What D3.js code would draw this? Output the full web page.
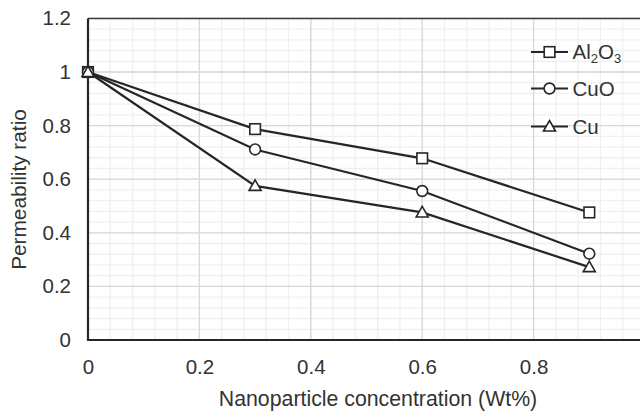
<!DOCTYPE html>
<html><head><meta charset="utf-8">
<script src="https://cdn.jsdelivr.net/npm/d3@7"></script>
<style>body{margin:0;background:#fff;}svg{display:block;font-family:"Liberation Sans",Arial,sans-serif;}</style>
</head><body><svg id="c" width="640" height="411"></svg>
<script>
const concentrations = [0, 0.3, 0.6, 0.9];
const al2o3 = [1, 0.787, 0.678, 0.476];
const cuo = [1, 0.711, 0.556, 0.322];
const cu = [1, 0.575, 0.476, 0.272];
const xTicks = [0, 0.2, 0.4, 0.6, 0.8];
const yTicks = [0, 0.2, 0.4, 0.6, 0.8, 1, 1.2];
const seriesNames = ["Al2O3", "CuO", "Cu"];
const seriesMarkers = ["square", "circle", "triangle"];

const svg = d3.select("#c");
const x = d3.scaleLinear().domain([0, 1]).range([88, 645]);
const y = d3.scaleLinear().domain([0, 1.2]).range([340, 18.4]);
const ink = "#262626";
const txt = "#333";
const fs = 20.5;

// minor grid
const minor = d3.range(0, 1.2001, 0.04);
svg.append("g").selectAll("line").data(minor.filter(v => v <= 1.0001)).join("line")
  .attr("x1", d => x(d)).attr("x2", d => x(d)).attr("y1", y(0)).attr("y2", y(1.2))
  .attr("stroke", "#f0f0f0").attr("stroke-width", 1.3);
svg.append("g").selectAll("line").data(minor).join("line")
  .attr("x1", x(0)).attr("x2", 640).attr("y1", d => y(d)).attr("y2", d => y(d))
  .attr("stroke", "#f0f0f0").attr("stroke-width", 1.3);
// major grid
svg.append("g").selectAll("line").data(xTicks.concat([1])).join("line")
  .attr("x1", d => x(d)).attr("x2", d => x(d)).attr("y1", y(0)).attr("y2", y(1.2))
  .attr("stroke", "#d9d9d9").attr("stroke-width", 1.3);
svg.append("g").selectAll("line").data(yTicks).join("line")
  .attr("x1", x(0)).attr("x2", 640).attr("y1", d => y(d)).attr("y2", d => y(d))
  .attr("stroke", "#d9d9d9").attr("stroke-width", 1.3);

// top border
svg.append("line").attr("x1", x(0)).attr("x2", 640).attr("y1", y(1.2)).attr("y2", y(1.2))
  .attr("stroke", "#3a3a3a").attr("stroke-width", 1.5);

// axes
const xAxis = d3.axisBottom(x).tickValues(xTicks).tickSize(0).tickPadding(19)
  .tickFormat(d => String(+d.toFixed(1)));
const gx = svg.append("g").attr("transform", `translate(0,${y(0)})`).call(xAxis);
gx.select(".domain").remove();
gx.selectAll("text").attr("font-size", fs).attr("fill", txt).attr("font-family", "Liberation Sans, Arial, sans-serif");
const yAxis = d3.axisLeft(y).tickValues(yTicks).tickSize(0).tickPadding(17)
  .tickFormat(d => String(+d.toFixed(1)));
const gy = svg.append("g").attr("transform", `translate(${x(0)},0)`).call(yAxis);
gy.select(".domain").remove();
gy.selectAll("text").attr("font-size", fs).attr("fill", txt).attr("font-family", "Liberation Sans, Arial, sans-serif");

svg.append("line").attr("x1", x(0)).attr("x2", 640).attr("y1", y(0)).attr("y2", y(0))
  .attr("stroke", ink).attr("stroke-width", 2.2);
svg.append("line").attr("x1", x(0)).attr("x2", x(0)).attr("y1", y(0) + 1).attr("y2", y(1.2))
  .attr("stroke", ink).attr("stroke-width", 2.2);

// axis titles
svg.append("text").attr("x", 378).attr("y", 405.5).attr("text-anchor", "middle")
  .attr("font-size", 21.3).attr("fill", txt).text("Nanoparticle concentration (Wt%)");
svg.append("text").attr("transform", `translate(26,189.5) rotate(-90)`)
  .attr("text-anchor", "middle").attr("font-size", 20.8).attr("fill", txt).text("Permeability ratio");

// marker drawing
function marker(g, type, cx, cy) {
  if (type === "square") {
    g.append("rect").attr("x", cx - 5.3).attr("y", cy - 5.3).attr("width", 10.6).attr("height", 10.6)
      .attr("fill", "#fff").attr("stroke", ink).attr("stroke-width", 1.6);
  } else if (type === "circle") {
    g.append("circle").attr("cx", cx).attr("cy", cy).attr("r", 5.4)
      .attr("fill", "#fff").attr("stroke", ink).attr("stroke-width", 1.6);
  } else {
    const s = 6;
    g.append("path").attr("d", `M${cx},${cy - s}L${cx + s},${cy + s * 0.75}L${cx - s},${cy + s * 0.75}Z`)
      .attr("fill", "#fff").attr("stroke", ink).attr("stroke-width", 1.6);
  }
}

const allSeries = [al2o3, cuo, cu];
const line = d3.line().x((d, i) => x(concentrations[i])).y(d => y(d));
allSeries.forEach((vals, si) => {
  svg.append("path").datum(vals).attr("d", line).attr("fill", "none")
    .attr("stroke", ink).attr("stroke-width", 2.2);
});
allSeries.forEach((vals, si) => {
  const g = svg.append("g");
  vals.forEach((v, i) => marker(g, seriesMarkers[si], x(concentrations[i]), y(v)));
});

// legend
const legendY = [52, 88.5, 126.5];
seriesNames.forEach((name, i) => {
  const g = svg.append("g");
  g.append("line").attr("x1", 531).attr("x2", 568).attr("y1", legendY[i]).attr("y2", legendY[i])
    .attr("stroke", ink).attr("stroke-width", 2.2);
  marker(g, seriesMarkers[i], 549.5, legendY[i]);
  const t = g.append("text").attr("x", 572.5).attr("y", legendY[i] + 7).attr("font-size", fs).attr("fill", txt);
  if (name === "Al2O3") {
    t.append("tspan").text("Al");
    t.append("tspan").attr("font-size", 13).attr("dy", 4).text("2");
    t.append("tspan").attr("dy", -4).text("O");
    t.append("tspan").attr("font-size", 13).attr("dy", 4).text("3");
  } else {
    t.text(name);
  }
});
</script></body></html>
